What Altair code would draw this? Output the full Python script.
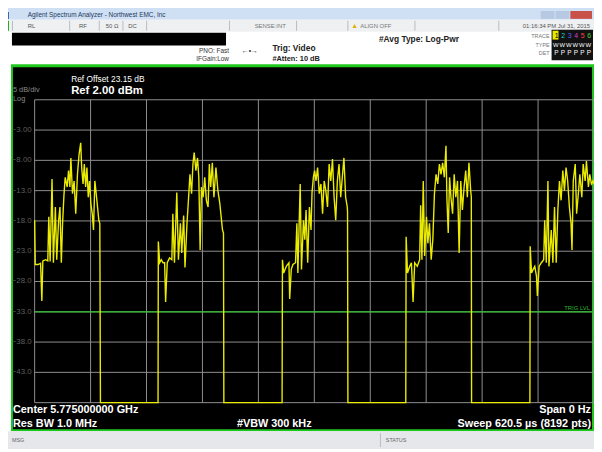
import altair as alt
import pandas as pd

# ---------------- data ----------------
SPAN_US = 620.5          # sweep time (µs), zero span
REF_LEVEL = 2.0          # dBm (top of screen)
BOTTOM_LEVEL = -48.0     # dBm (bottom of screen)
TRIG_LEVEL = -33.0       # dBm (video trigger level)

b1_t = [0.0, 0.7, 3.7, 6.6, 8.0, 9.1, 12.1, 14.6, 15.7, 17.2, 19.3, 20.8, 23.0, 24.5, 26.6,
        28.1, 29.6, 31.0, 32.5, 33.9, 36.1, 37.6, 39.1, 40.2, 42.0, 43.8, 45.6, 47.5, 49.3, 51.1,
        52.2, 53.7, 55.1, 56.6, 58.0, 59.5, 60.9, 62.4, 63.9, 65.3, 66.8, 68.3, 70.1, 71.2, 72.3, 73.0]
b1_v = [-17.9, -25.2, -25.2, -25.0, -31.2, -24.6, -24.4, -24.6, -17.3, -24.7, -11.1, -24.9, -15.7, -24.4, -17.9,
        -15.7, -24.9, -18.4, -13.8, -10.8, -12.4, -9.7, -12.4, -7.6, -13.5, -11.4, -16.8, -10.3, -7.0, -5.1,
        -9.2, -11.9, -8.6, -12.4, -9.2, -14.1, -11.4, -15.2, -16.8, -19.5, -11.4, -13.5, -16.2, -17.9, -18.4, -48.0]

b2_t = [136.9, 137.2, 138.7, 140.5, 142.4, 144.2, 145.3, 147.1, 149.7, 152.2, 153.3, 155.1, 157.7, 159.5, 161.7,
        163.2, 165.3, 166.8, 169.0, 170.8, 172.3, 174.1, 175.6, 177.0, 178.9, 180.7, 182.1, 183.6, 185.1, 186.9,
        188.7, 190.5, 192.4, 193.8, 195.3, 197.1, 198.9, 201.1, 203.3, 205.5, 206.9, 208.4, 209.5, 209.9]
b2_v = [-48.0, -21.4, -24.9, -24.4, -24.9, -24.9, -31.4, -24.9, -24.1, -24.4, -16.8, -24.9, -13.3, -24.4, -18.4,
        -23.3, -17.1, -25.7, -18.4, -14.1, -10.3, -13.5, -8.6, -6.7, -9.7, -7.6, -10.8, -22.8, -12.4, -14.1,
        -10.8, -14.6, -15.7, -8.6, -12.4, -8.4, -14.1, -9.2, -13.0, -15.2, -17.3, -19.5, -20.0, -48.0]

b3_t = [274.5, 274.9, 276.3, 279.2, 282.1, 282.9, 284.7, 286.5, 289.4, 290.9, 292.0, 294.6, 296.0, 298.2, 299.7,
        301.1, 302.9, 304.8, 306.6, 307.7, 309.2, 310.6, 312.1, 313.9, 315.7, 317.6, 319.4, 321.2, 323.0, 324.9,
        326.7, 328.5, 330.4, 332.2, 334.0, 335.8, 337.7, 339.5, 341.3, 343.1, 345.0, 346.8, 347.1, 347.5]
b3_v = [-48.0, -24.4, -26.6, -25.5, -24.9, -30.9, -26.0, -25.2, -24.9, -18.4, -26.6, -11.9, -26.0, -17.9, -21.1,
        -16.2, -24.9, -15.7, -19.5, -13.3, -10.8, -9.7, -11.4, -9.2, -13.5, -11.9, -16.8, -11.4, -13.0, -15.7,
        -8.6, -11.4, -7.8, -14.1, -17.9, -11.4, -8.6, -14.1, -10.8, -7.6, -14.1, -15.7, -16.5, -48.0]

b4_t = [411.7, 412.1, 413.6, 416.1, 418.0, 419.8, 421.6, 424.5, 427.1, 428.2, 429.6, 431.1, 432.6, 434.7, 436.2,
        438.0, 439.9, 441.7, 443.5, 445.3, 447.2, 449.0, 450.8, 452.6, 454.5, 456.3, 457.4, 458.8, 460.3, 461.8,
        463.6, 465.4, 467.2, 469.1, 470.9, 472.7, 474.5, 476.4, 478.2, 480.0, 481.8, 483.7, 484.4, 484.7]
b4_v = [-48.0, -20.6, -26.6, -25.5, -24.9, -31.4, -24.9, -25.5, -24.4, -15.4, -24.4, -11.4, -23.8, -17.3, -21.7,
        -18.4, -24.4, -21.1, -13.5, -10.3, -11.9, -8.6, -10.3, -8.4, -10.8, -5.6, -14.6, -20.0, -10.8, -14.1,
        -16.8, -10.3, -14.1, -11.4, -23.3, -11.4, -16.2, -12.4, -9.7, -14.1, -8.4, -13.0, -14.0, -48.0]

b5_t = [549.4, 549.7, 551.2, 553.0, 554.8, 556.7, 557.7, 559.6, 562.1, 564.7, 565.8, 567.6, 569.4, 570.5, 573.1,
        574.9, 576.7, 578.6, 580.4, 582.2, 584.0, 585.9, 587.7, 589.5, 591.3, 593.2, 595.0, 596.1, 597.5, 599.7,
        601.2, 603.4, 604.8, 607.0, 608.5, 610.7, 612.1, 614.3, 615.8, 617.6, 619.4, 620.5]
b5_v = [-48.0, -22.2, -26.6, -26.0, -25.5, -27.1, -30.4, -25.5, -24.9, -24.4, -17.9, -24.9, -11.4, -25.5, -19.5,
        -24.9, -15.7, -24.9, -16.2, -11.4, -14.6, -9.7, -13.0, -9.2, -11.4, -15.7, -18.4, -22.8, -11.4, -8.6,
        -16.8, -13.0, -10.3, -14.1, -8.6, -11.4, -8.1, -12.4, -10.3, -11.9, -11.4, -12.0]

y_label_levels = [-3, -8, -13, -18, -23, -28, -33, -38, -43]

# ---------------- layout ----------------
OX, OY = 35, 98            # page position of the plot area's top-left corner
PLOT_W, PLOT_H = 567, 307
PAD = {"left": 27, "top": 90, "right": 0, "bottom": 47}

trace = pd.DataFrame({
    "t": b1_t + b2_t + b3_t + b4_t + b5_t,
    "dbm": b1_v + b2_v + b3_v + b4_v + b5_v,
})

xs = alt.Scale(domain=[0, SPAN_US], nice=False, zero=False)
ys = alt.Scale(domain=[BOTTOM_LEVEL, REF_LEVEL], nice=False, zero=False)

x_grid = [SPAN_US * k / 10 for k in range(0, 11)]
y_grid = [REF_LEVEL - 5 * k for k in range(0, 11)]


def R(x1, y1, x2, y2, fill):
    return {"x": x1 - OX, "x2": x2 - OX, "y": y1 - OY, "y2": y2 - OY, "fill": fill}


rects = [
    R(0, 0, 602, 17, "#cfe0f4"),          # window title bar
    R(2, 9, 9, 16, "#3a64b0"),            # app icon
    R(548, 8, 562, 16, "#b7c9e2"),        # min
    R(563, 8, 577, 16, "#b7c9e2"),        # max
    R(578, 8, 600, 16, "#c8524a"),        # close
    R(0, 17, 602, 29, "#eef0f2"),         # status row
    R(0, 18, 9, 28, "#22aa22"),           # green square
    R(12, 30, 229, 43, "#000000"),        # black bar
    R(559, 27, 601, 58, "#111111"),       # trace box
    R(560, 28, 566, 37, "#e8e800"),       # trace 1 highlight
    R(11, 62, 602, 434, "#1fc81f"),       # green frame
    R(13, 65, 600, 432, "#000000"),       # black screen
    R(0, 434, 602, 452, "#e5e7ea"),       # bottom status bar
]
for sx in [12, 70, 100, 124, 148, 232, 300, 352, 420, 505]:
    rects.append(R(sx, 18, sx + 1, 28, "#b9bcc0"))
rects.append(R(385, 436, 386, 450, "#b9bcc0"))

rect_layer = alt.Chart(pd.DataFrame(rects)).mark_rect().encode(
    x=alt.X("x:Q", scale=None), x2="x2:Q",
    y=alt.Y("y:Q", scale=None), y2="y2:Q",
    color=alt.Color("fill:N", scale=None),
)


def T(x, y, text, color, size):
    return {"x": x - OX, "y": y - OY, "text": text, "color": color, "size": size}


left_bold = [
    T(72, 89, "Ref 2.00 dBm", "#ffffff", 11.5),
    T(13, 413, "Center 5.775000000 GHz", "#ffffff", 11),
    T(13, 427, "Res BW 1.0 MHz", "#ffffff", 11),
    T(240, 427, "#VBW 300 kHz", "#ffffff", 11),
    T(384, 36, "#Avg Type: Log-Pwr", "#222222", 8.5),
    T(276, 46, "Trig: Video", "#222222", 8.5),
    T(276, 57, "#Atten: 10 dB", "#222222", 7.5),
]
right_bold = [
    T(599, 413, "Span 0 Hz", "#ffffff", 11),
    T(599, 427, "Sweep  620.5 µs (8192 pts)", "#ffffff", 11),
]
left_norm = [
    T(72, 77, "Ref Offset 23.15 dB", "#ffffff", 8.5),
    T(13, 88, "5 dB/div", "#8a8a8a", 7.5),
    T(13, 97, "Log", "#8a8a8a", 7.5),
    T(28, 12, "Agilent Spectrum Analyzer - Northwest EMC, Inc", "#24385c", 6.5),
    T(28, 23, "RL", "#555555", 6),
    T(80, 23, "RF", "#555555", 6),
    T(107, 23, "50 Ω", "#555555", 6),
    T(130, 23, "DC", "#555555", 6),
    T(258, 23, "SENSE:INT", "#777777", 6),
    T(356, 23, "▲", "#e0b000", 7),
    T(365, 23, "ALIGN OFF", "#777777", 6),
    T(245, 49, "←•→", "#333333", 7),
    T(12, 443, "MSG", "#666666", 5.5),
    T(391, 443, "STATUS", "#666666", 5.5),
]
right_norm = [
    T(598, 23, "01:16:34 PM Jul 31, 2015", "#555555", 6),
    T(232, 49, "PNO: Fast", "#333333", 6.5),
    T(232, 57, "IFGain:Low", "#333333", 6.5),
    T(557, 33, "TRACE", "#777777", 5.5),
    T(557, 42, "TYPE", "#777777", 5.5),
    T(557, 51, "DET", "#777777", 5.5),
    T(598, 309, "TRIG LVL", "#2fb52f", 6),
]
trace_cols = ["#000000", "#22d3d3", "#6060ff", "#d040d0", "#ff4040", "#40d040"]
for i, c in enumerate(trace_cols):
    right_norm.append(T(566 + 6.6 * i, 33, str(i + 1), c, 7))
    right_norm.append(T(566 + 6.6 * i, 42, "W", "#ffffff", 6))
    right_norm.append(T(566 + 6.6 * i, 51, "P", "#ffffff", 6.5))


def text_layer(rows, align, weight):
    return alt.Chart(pd.DataFrame(rows)).mark_text(
        align=align, baseline="middle", font="Liberation Sans", fontWeight=weight
    ).encode(
        x=alt.X("x:Q", scale=None), y=alt.Y("y:Q", scale=None),
        text="text:N",
        color=alt.Color("color:N", scale=None),
        size=alt.Size("size:Q", scale=None),
    )


vgrid = alt.Chart(pd.DataFrame({"t": x_grid})).mark_rule(color="#8f8f8f", strokeWidth=1).encode(
    x=alt.X("t:Q", scale=xs, axis=None)
)
hgrid = alt.Chart(pd.DataFrame({"dbm": y_grid})).mark_rule(color="#8f8f8f", strokeWidth=1).encode(
    y=alt.Y("dbm:Q", scale=ys, axis=None)
)
trig = alt.Chart(pd.DataFrame({"dbm": [TRIG_LEVEL]})).mark_rule(color="#2fc02f", strokeWidth=1.3).encode(
    y=alt.Y("dbm:Q", scale=ys, axis=None)
)
line = alt.Chart(trace).mark_line(color="#ecec00", strokeWidth=1.4, interpolate="linear").encode(
    x=alt.X("t:Q", scale=xs, axis=None),
    y=alt.Y("dbm:Q", scale=ys, axis=None),
)
# y tick labels (grey, left of the graticule)
ylabels = alt.Chart(pd.DataFrame({"dbm": y_label_levels})).mark_text(
    align="right", baseline="middle", font="Liberation Sans", fontSize=8, color="#5e5e5e"
).encode(
    x=alt.value(-3),
    y=alt.Y("dbm:Q", scale=ys, axis=None),
    text=alt.Text("dbm:Q", format=".3g"),
)

chart = alt.layer(
    rect_layer, vgrid, hgrid, trig, line, ylabels,
    text_layer(left_bold, "left", "bold"),
    text_layer(right_bold, "right", "bold"),
    text_layer(left_norm, "left", "normal"),
    text_layer(right_norm, "right", "normal"),
).properties(
    width=PLOT_W, height=PLOT_H,
    autosize=alt.AutoSizeParams(type="none"),
    padding=PAD,
    background="#ffffff",
).configure_view(stroke=None)

chart.save("out.html", embed_options={"renderer": "svg", "actions": False})
